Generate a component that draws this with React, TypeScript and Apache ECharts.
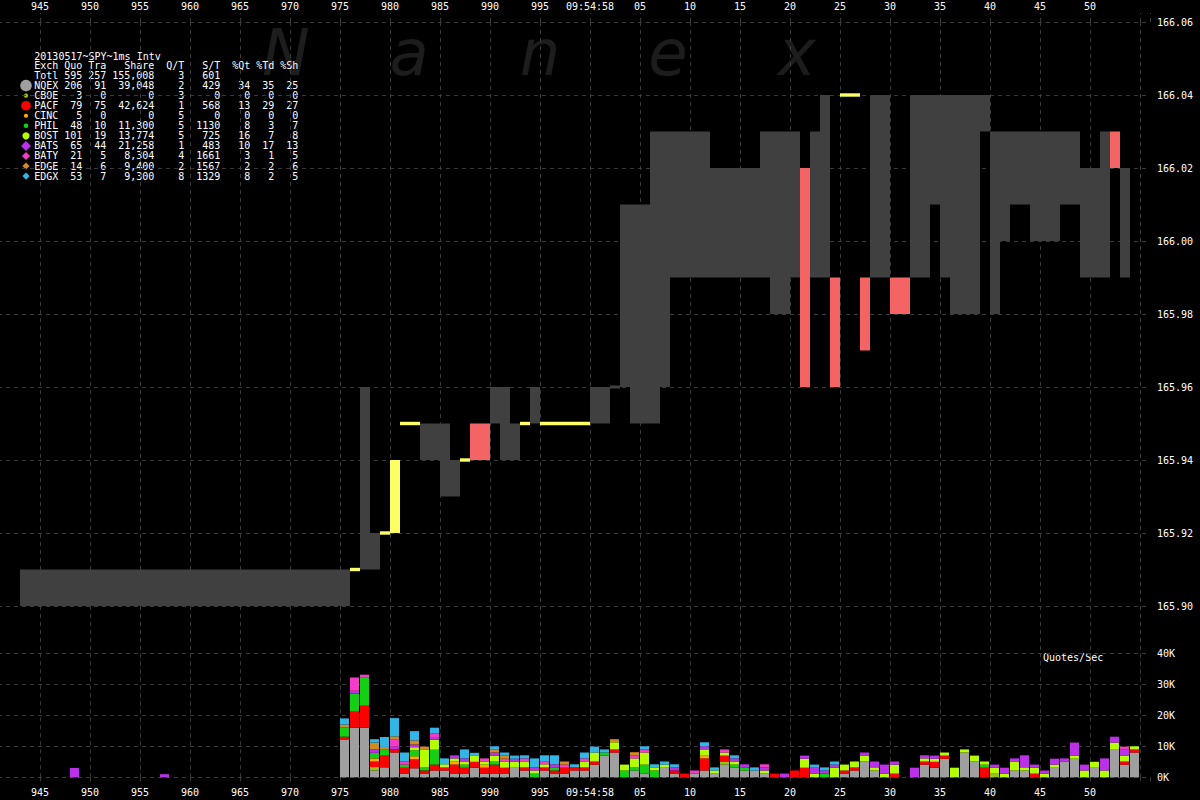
import React, { useEffect, useRef } from "react";
import * as echarts from "echarts";

// ---------- data ----------
const exchanges = ["NQEX", "CBOE", "PACF", "CINC", "PHIL", "BOST", "BATS", "BATY", "EDGE", "EDGX"];
const quoCounts = [206, 3, 79, 5, 48, 101, 65, 21, 14, 53];
const tradeCounts = [91, 0, 75, 0, 10, 19, 44, 5, 6, 7];
const shareVolumes = [39048, 0, 42624, 0, 11300, 13774, 21258, 8304, 9400, 9300];
const quotesPerTrade = [2, 3, 1, 5, 5, 5, 1, 4, 2, 8];
const sharesPerTrade = [429, 0, 568, 0, 1130, 725, 483, 1661, 1567, 1329];
const pctQuotes = [34, 0, 13, 0, 8, 16, 10, 3, 2, 8];
const pctTrades = [35, 0, 29, 0, 3, 7, 17, 1, 2, 2];
const pctShares = [25, 0, 27, 0, 7, 8, 13, 5, 6, 5];
const totalQuo = 595;
const totalTra = 257;
const totalShare = 155008;
const totalQT = 3;
const totalST = 601;
const chartTitle = "20130517~SPY~1ms Intv";

// price blocks: [startMs, endMs, low, high]
const spreadBlocks = [
  [943, 976, 165.9, 165.91],
  [977, 978, 165.91, 165.96],
  [978, 979, 165.91, 165.92],
  [983, 985, 165.94, 165.95],
  [985, 986, 165.93, 165.95],
  [986, 987, 165.93, 165.94],
  [990, 991, 165.95, 165.96],
  [991, 992, 165.94, 165.96],
  [992, 993, 165.94, 165.95],
  [994, 995, 165.95, 165.96],
  [1000, 1002, 165.95, 165.96],
  [1002, 1003, 165.96, 165.96],
  [1003, 1004, 165.96, 166.01],
  [1004, 1006, 165.95, 166.01],
  [1006, 1007, 165.95, 166.03],
  [1007, 1008, 165.96, 166.03],
  [1008, 1012, 165.99, 166.03],
  [1012, 1017, 165.99, 166.02],
  [1017, 1018, 165.99, 166.03],
  [1018, 1020, 165.98, 166.03],
  [1020, 1021, 165.99, 166.03],
  [1022, 1023, 165.99, 166.03],
  [1023, 1024, 165.99, 166.04],
  [1028, 1030, 165.99, 166.04],
  [1032, 1034, 165.99, 166.04],
  [1034, 1035, 166.01, 166.04],
  [1035, 1036, 165.99, 166.04],
  [1036, 1039, 165.98, 166.04],
  [1039, 1040, 166.03, 166.04],
  [1040, 1041, 165.98, 166.03],
  [1041, 1042, 166.0, 166.03],
  [1042, 1044, 166.01, 166.03],
  [1044, 1047, 166.0, 166.03],
  [1047, 1049, 166.01, 166.03],
  [1049, 1051, 165.99, 166.02],
  [1051, 1052, 165.99, 166.03],
  [1053, 1054, 165.99, 166.02],
];
const lockedBlocks = [
  [976, 977, 165.91, 165.91],
  [979, 980, 165.92, 165.92],
  [980, 981, 165.92, 165.94],
  [981, 983, 165.95, 165.95],
  [987, 988, 165.94, 165.94],
  [993, 994, 165.95, 165.95],
  [995, 1000, 165.95, 165.95],
  [1025, 1027, 166.04, 166.04],
];
const crossedBlocks = [
  [988, 990, 165.94, 165.95],
  [1021, 1022, 165.96, 166.02],
  [1024, 1025, 165.96, 165.99],
  [1027, 1028, 165.97, 165.99],
  [1030, 1032, 165.98, 165.99],
  [1052, 1053, 166.02, 166.03],
];

// quotes/sec (K) per 1ms bucket
const volumeTimes = [948, 957,
  975, 976, 977, 978, 979, 980, 981, 982, 983, 984,
  985, 986, 987, 988, 989, 990, 991, 992, 993, 994,
  995, 996, 997, 998, 999, 1000, 1001, 1002, 1003, 1004,
  1005, 1006, 1007, 1008, 1009, 1010, 1011, 1012, 1013, 1014,
  1015, 1016, 1017, 1018, 1019, 1020, 1021, 1022, 1023, 1024,
  1025, 1026, 1027, 1028, 1029, 1030, 1031, 1032, 1033, 1034,
  1035, 1036, 1037, 1038, 1039, 1040, 1041, 1042, 1043, 1044,
  1045, 1046, 1047, 1048, 1049, 1050, 1051, 1052, 1053, 1054];
const nqexVol = [0, 0,
  12.2, 16.0, 16.0, 2.2, 3.2, 8.0, 1.2, 2.9, 1.2, 2.2,
  2.2, 1.2, 1.2, 3.1, 1.2, 1.2, 1.2, 3.1, 2.2, 0,
  2.2, 1.2, 1.2, 2.2, 2.2, 4.1, 7.0, 8.0, 0, 2.2,
  1.2, 0, 3.1, 1.2, 0, 1.2, 2.2, 1.2, 4.1, 3.1,
  2.2, 2.2, 1.2, 0, 0, 0, 0, 0, 0, 0,
  1.2, 2.2, 5.1, 2.2, 0, 0, 0, 0, 4.1, 3.1,
  6.0, 0, 8.0, 5.1, 0, 0, 0, 2.2, 2.2, 0,
  0, 3.1, 5.1, 6.0, 0, 3.1, 0, 8.9, 4.1, 8.0];
const cboeVol = [0, 0,
  0, 0, 0, 1.1, 0, 0, 0, 0, 0, 0,
  0, 0, 0, 0, 0, 0, 0, 0, 0, 0,
  0, 0, 0, 0, 0, 0, 0, 0, 0, 0,
  0, 0, 0, 0, 0, 0, 0, 0, 1.0, 0,
  0, 0, 0, 0, 0, 0, 0, 0, 0, 0,
  0, 0, 0, 0, 0, 0, 0, 0, 0, 0,
  0, 0, 0, 0, 0, 1.2, 0, 0, 0, 0,
  0, 0, 0, 0, 0, 0, 0, 0, 0, 0];
const pacfVol = [0, 0,
  0.9, 5.2, 7.1, 1.8, 3.8, 1.0, 1.9, 2.9, 1.0, 1.9,
  1.0, 2.9, 1.9, 1.9, 1.9, 2.9, 1.9, 0, 1.0, 0,
  1.0, 1.0, 1.9, 1.0, 1.0, 1.0, 0, 1.0, 0, 0,
  0, 0, 0, 1.0, 1.2, 0, 3.9, 0, 1.9, 0,
  0, 0, 0, 1.2, 0, 2.2, 3.1, 0, 0, 0,
  1.0, 1.0, 0, 0, 0, 1.2, 0, 0, 1.0, 1.9,
  1.0, 0, 0, 0, 3.1, 0, 0, 0, 0, 1.2,
  0, 0, 0, 0, 0, 0, 0, 0, 1.0, 1.0];
const cincVol = [0, 0,
  0, 0, 0, 1.0, 0, 0, 0, 1.0, 0, 0,
  0, 1.0, 0, 0, 1.0, 0, 0, 0, 0, 0,
  0, 0, 0, 0, 0, 0, 0, 0, 0, 0,
  0, 0, 0, 0, 0, 0, 1.0, 0, 0, 0,
  0, 0, 0, 0, 0, 0, 0, 0, 0, 0,
  0, 0, 0, 0, 0, 0, 0, 0, 0, 0,
  0, 0, 0, 0, 0, 0, 0, 0, 0, 0,
  0, 0, 0, 0, 0, 0, 0, 0, 0, 0];
const philVol = [0, 0,
  3.0, 5.8, 9.0, 1.8, 1.9, 0, 1.0, 1.9, 1.0, 4.8,
  0, 0, 1.0, 0, 0, 1.0, 0, 0, 0, 1.2,
  0, 1.0, 0, 0, 0, 0, 1.0, 0, 2.2, 1.0,
  2.9, 2.2, 0, 0, 0, 0, 0, 0, 0, 1.0,
  1.0, 0, 0, 0, 0, 0, 0, 0, 1.2, 0,
  0, 0, 0, 0, 0, 0, 0, 0, 0, 0,
  0, 0, 0, 0, 1.0, 0, 0, 0, 0, 0,
  0, 0, 0, 0, 0, 0, 0, 0, 0, 0];
const bostVol = [0, 0,
  0, 0, 0, 0, 0, 0, 0, 1.0, 5.8, 3.2,
  1.0, 1.0, 1.0, 1.9, 1.0, 1.9, 1.9, 1.9, 1.9, 1.0,
  1.0, 0, 0, 0, 1.9, 2.9, 0, 2.3, 1.9, 2.9,
  3.9, 1.0, 1.0, 0, 0, 0, 1.9, 1.0, 1.0, 1.0,
  0, 0, 1.0, 0, 0, 0, 2.9, 1.2, 0, 3.1,
  1.9, 1.9, 1.9, 1.0, 1.2, 2.9, 0, 0, 1.0, 1.0,
  1.0, 3.1, 1.0, 1.9, 1.0, 1.9, 1.2, 2.9, 1.0, 1.9,
  1.2, 1.0, 0, 1.0, 2.2, 1.9, 2.2, 2.3, 1.9, 1.0];
const batsVol = [3.0, 1.0,
  0, 0.9, 0, 1.1, 0, 0.9, 0, 0.9, 0, 0.9,
  0, 1.0, 1.0, 0, 0, 1.0, 0, 1.0, 0, 1.0,
  0, 1.0, 0, 0, 0, 0, 0, 0, 0, 0,
  0, 0, 0, 1.0, 0, 0, 1.0, 0, 0, 1.0,
  1.0, 0, 1.0, 0, 1.2, 0, 1.0, 1.9, 1.0, 1.0,
  0, 0, 1.0, 1.9, 2.9, 1.0, 0, 3.1, 1.0, 1.0,
  0, 0, 0, 0, 0, 1.0, 1.9, 1.0, 3.9, 1.0,
  1.0, 1.9, 1.0, 4.2, 1.9, 0, 3.9, 1.9, 1.9, 0];
const batyVol = [0, 0,
  0, 4.3, 1.0, 0, 0, 2.4, 1.0, 0, 0, 1.1,
  0, 0, 0, 0, 1.0, 0, 1.0, 0, 1.0, 0,
  1.0, 0, 1.0, 0, 1.0, 0, 0, 0, 0, 1.0,
  1.0, 0, 0, 0, 0, 1.0, 0, 0, 1.0, 0,
  0, 0, 1.0, 0, 0, 0, 0, 0, 0, 0,
  0, 0, 0, 0, 0, 0, 0, 0, 0, 0,
  0, 0, 0, 0, 0, 0, 0, 0, 0, 0,
  0, 0, 0, 0, 0, 0, 0, 0, 1.0, 0];
const edgeVol = [0, 0,
  0.9, 0, 0, 2.2, 0.9, 0.9, 0, 1.3, 0.9, 0,
  0, 0, 0, 0, 0, 1.0, 1.0, 0, 0, 0,
  0, 0, 1.0, 0, 0, 0, 0, 1.0, 0, 1.0,
  0, 0, 0, 0, 0, 0, 0, 0, 0, 0,
  0, 0, 0, 0, 0, 0, 0, 0, 0, 0,
  0, 0, 0, 0, 0, 0, 0, 0, 0, 0,
  0, 0, 0, 0, 0, 0, 0, 0, 0, 0,
  0, 0, 0, 0, 0, 0, 0, 0, 0, 0];
const edgxVol = [0, 0,
  2.0, 0, 0, 1.1, 3.2, 5.9, 2.9, 3.0, 0, 1.9,
  1.9, 0, 2.9, 1.0, 0, 1.0, 1.0, 1.0, 1.0, 2.9,
  1.9, 2.9, 0, 1.0, 1.9, 1.9, 1.0, 0, 0, 0,
  1.0, 1.0, 1.0, 1.0, 0, 0, 1.3, 1.0, 0, 1.0,
  0, 1.0, 0, 0, 0, 0, 0, 1.0, 1.0, 1.0,
  0, 0, 0, 0, 0, 0, 0, 0, 0, 0,
  0, 0, 0, 0, 0, 0, 0, 0, 0, 0,
  0, 0, 0, 0, 0, 0, 0, 0, 0, 0];
const volumeByExchange = [nqexVol, cboeVol, pacfVol, cincVol, philVol, bostVol, batsVol, batyVol, edgeVol, edgxVol];

const priceTicks = { min: 165.9, max: 166.06, step: 0.02 };
const volumeTicks = { min: 0, max: 40, step: 10 };
const watermarkLetters = ["N", "a", "n", "e", "x"];

// ---------- styles ----------
const exchangeColors = ["#a09fa0", "#99c21a", "#ff0000", "#ffaa00", "#14d014", "#b4ff00", "#bb30e8", "#f53cc8", "#d08c20", "#33b5e5"];
const markerShapes = ["circle", "circle", "circle", "circle", "circle", "circle", "diamond", "diamond", "diamond", "diamond"];
const markerSizes = [5.8, 2.1, 4.8, 2.1, 2.3, 3.6, 5, 4, 3.6, 3.6];
const SPREAD = "#404040";
const LOCKED = "#ffff66";
const CROSSED = "#f46464";
const MONO = '"DejaVu Sans Mono", monospace';
const OX = 10; // container shifted left by 10px
const gridLine = { color: "#3a3a3a", type: [4, 4], width: 1 };

function fmtTime(v: number): string {
  if (v % 5 !== 0 || v < 945 || v > 1050) return "";
  if (v === 1000) return "09:54:58";
  if (v > 1000) return String(v - 1000).padStart(2, "0");
  return String(v);
}

function blockRenderer(fill: string, minH: number) {
  return (_params: any, api: any) => {
    const a = api.coord([api.value(0), api.value(3)]);
    const b = api.coord([api.value(1), api.value(2)]);
    let y0 = a[1];
    let y1 = b[1];
    if (y1 - y0 < minH) {
      const c = (y0 + y1) / 2;
      y0 = c - minH / 2;
      y1 = c + minH / 2;
    }
    return {
      type: "rect",
      shape: { x: a[0], y: y0, width: b[0] - a[0], height: y1 - y0 },
      style: { fill },
    };
  };
}

function buildOption() {
  const volumeRows = volumeTimes.map((t, i) => [t, ...volumeByExchange.map((arr) => arr[i])]);

  const textBase = { fill: "#ffffff", fontFamily: MONO, fontSize: 10 };
  const rowH = 10.05;
  const tableTop = 65.5 - rowH / 2;
  const fmtN = (n: number) => n.toLocaleString("en-US");

  const columns: { lines: string[]; x: number; align: string }[] = [
    { lines: ["Exch", "Totl", ...exchanges], x: 34.3, align: "left" },
    { lines: ["Quo", String(totalQuo), ...quoCounts.map(String)], x: 82.3, align: "right" },
    { lines: ["Tra", String(totalTra), ...tradeCounts.map(String)], x: 106.3, align: "right" },
    { lines: ["Share", fmtN(totalShare), ...shareVolumes.map(fmtN)], x: 154.3, align: "right" },
    { lines: ["Q/T", String(totalQT), ...quotesPerTrade.map(String)], x: 184.3, align: "right" },
    { lines: ["S/T", String(totalST), ...sharesPerTrade.map(String)], x: 220.3, align: "right" },
    { lines: ["%Qt", "", ...pctQuotes.map(String)], x: 250.3, align: "right" },
    { lines: ["%Td", "", ...pctTrades.map(String)], x: 274.3, align: "right" },
    { lines: ["%Sh", "", ...pctShares.map(String)], x: 298.3, align: "right" },
  ];

  const graphics: any[] = [];
  const wmX = [286, 409, 540, 668, 797];
  watermarkLetters.forEach((ch, i) => {
    graphics.push({
      type: "text",
      silent: true,
      z: -10,
      style: {
        text: ch,
        x: wmX[i] + OX,
        y: 53,
        fill: "#1d1d1d",
        fontFamily: '"DejaVu Sans"',
        fontStyle: "italic",
        fontSize: 64,
        align: "center",
        textAlign: "center",
        verticalAlign: "middle",
        textVerticalAlign: "middle",
      },
    });
  });
  graphics.push({
    type: "text",
    style: { ...textBase, text: chartTitle, x: 34.3 + OX, y: 56, align: "left", textAlign: "left", verticalAlign: "middle", textVerticalAlign: "middle" },
  });
  columns.forEach((c) => {
    graphics.push({
      type: "text",
      style: {
        ...textBase,
        text: c.lines.join("\n"),
        x: c.x + OX,
        y: tableTop,
        lineHeight: rowH,
        align: c.align,
        textAlign: c.align,
        verticalAlign: "top",
        textVerticalAlign: "top",
      },
    });
  });
  exchanges.forEach((_e, i) => {
    const cx = 26 + OX;
    const cy = 65.5 + (i + 2) * rowH;
    const r = markerSizes[i];
    if (markerShapes[i] === "circle") {
      graphics.push({ type: "circle", shape: { cx, cy, r }, style: { fill: exchangeColors[i] } });
    } else {
      graphics.push({
        type: "polygon",
        shape: { points: [[cx, cy - r], [cx + r, cy], [cx, cy + r], [cx - r, cy]] },
        style: { fill: exchangeColors[i] },
      });
    }
  });
  graphics.push({
    type: "text",
    style: { ...textBase, text: "Quotes/Sec", x: 1043 + OX, y: 657.5, align: "left", textAlign: "left", verticalAlign: "middle", textVerticalAlign: "middle" },
  });

  const xBase = {
    type: "value",
    min: 940,
    max: 1056,
    interval: 5,
    axisLine: { show: false, onZero: false },
    splitLine: { show: true, lineStyle: gridLine, showMinLine: false, showMaxLine: false },
  };
  const labelStyle = { color: "#ffffff", fontFamily: MONO, fontSize: 10 };

  return {
    animation: false,
    backgroundColor: "#000000",
    graphic: { elements: graphics },
    grid: [
      { left: 0, right: 50, top: 22, height: 584, outerBoundsMode: "none" },
      { left: 0, right: 50, top: 606, height: 47.3, outerBoundsMode: "none" },
      { left: 0, right: 50, top: 653.3, height: 124, outerBoundsMode: "none" },
    ],
    xAxis: [
      {
        ...xBase,
        gridIndex: 0,
        position: "top",
        axisTick: { show: true, length: 9, lineStyle: gridLine },
        axisLabel: { ...labelStyle, margin: 11, formatter: fmtTime, showMinLabel: true, showMaxLabel: true },
      },
      {
        ...xBase,
        gridIndex: 1,
        axisTick: { show: false },
        axisLabel: { show: false },
      },
      {
        ...xBase,
        gridIndex: 2,
        position: "bottom",
        axisTick: { show: true, length: 6, lineStyle: gridLine },
        axisLabel: { ...labelStyle, margin: 10, formatter: fmtTime, showMinLabel: true, showMaxLabel: true },
      },
    ],
    yAxis: [
      {
        gridIndex: 0,
        type: "value",
        position: "right",
        min: priceTicks.min,
        max: priceTicks.max,
        interval: priceTicks.step,
        axisLine: { show: false },
        axisTick: { show: false },
        axisLabel: { ...labelStyle, margin: 7, formatter: (v: number) => v.toFixed(2) },
        splitLine: { show: true, lineStyle: gridLine },
      },
      {
        gridIndex: 1,
        type: "value",
        min: 0,
        max: 1,
        show: false,
      },
      {
        gridIndex: 2,
        type: "value",
        position: "right",
        min: volumeTicks.min,
        max: volumeTicks.max,
        interval: volumeTicks.step,
        axisLine: { show: false },
        axisTick: { show: false },
        axisLabel: { ...labelStyle, margin: 7, formatter: (v: number) => `${v}K` },
        splitLine: { show: true, lineStyle: gridLine },
      },
    ],
    series: [
      {
        name: "Spread",
        type: "custom",
        xAxisIndex: 0,
        yAxisIndex: 0,
        encode: { x: [0, 1], y: [2, 3] },
        data: spreadBlocks,
        renderItem: blockRenderer(SPREAD, 3),
      },
      {
        name: "Crossed",
        type: "custom",
        xAxisIndex: 0,
        yAxisIndex: 0,
        encode: { x: [0, 1], y: [2, 3] },
        data: crossedBlocks,
        renderItem: blockRenderer(CROSSED, 3),
      },
      {
        name: "Locked",
        type: "custom",
        xAxisIndex: 0,
        yAxisIndex: 0,
        encode: { x: [0, 1], y: [2, 3] },
        data: lockedBlocks,
        renderItem: blockRenderer(LOCKED, 3.4),
      },
      {
        name: "Quotes/Sec",
        type: "custom",
        xAxisIndex: 2,
        yAxisIndex: 2,
        encode: { x: 0, y: 1 },
        data: volumeRows,
        renderItem: (_params: any, api: any) => {
          const t = api.value(0);
          let acc = 0;
          const children: any[] = [];
          for (let k = 0; k < exchanges.length; k++) {
            const v = api.value(k + 1);
            if (!v) continue;
            const a = api.coord([t, acc]);
            const b = api.coord([t + 0.9, acc + v]);
            children.push({
              type: "rect",
              shape: { x: a[0], y: b[1], width: b[0] - a[0], height: a[1] - b[1] },
              style: { fill: exchangeColors[k] },
            });
            acc += v;
          }
          return { type: "group", children };
        },
      },
    ],
  };
}

export default function App() {
  const ref = useRef<HTMLDivElement>(null);
  useEffect(() => {
    document.body.style.margin = "0";
    document.body.style.background = "#000";
    const chart = echarts.init(ref.current as HTMLDivElement, null, { renderer: "svg" });
    chart.setOption(buildOption() as any);
    return () => chart.dispose();
  }, []);
  return (
    <div
      ref={ref}
      style={{ position: "fixed", left: -10, top: 0, width: 1210, height: 800, background: "#000" }}
    />
  );
}
